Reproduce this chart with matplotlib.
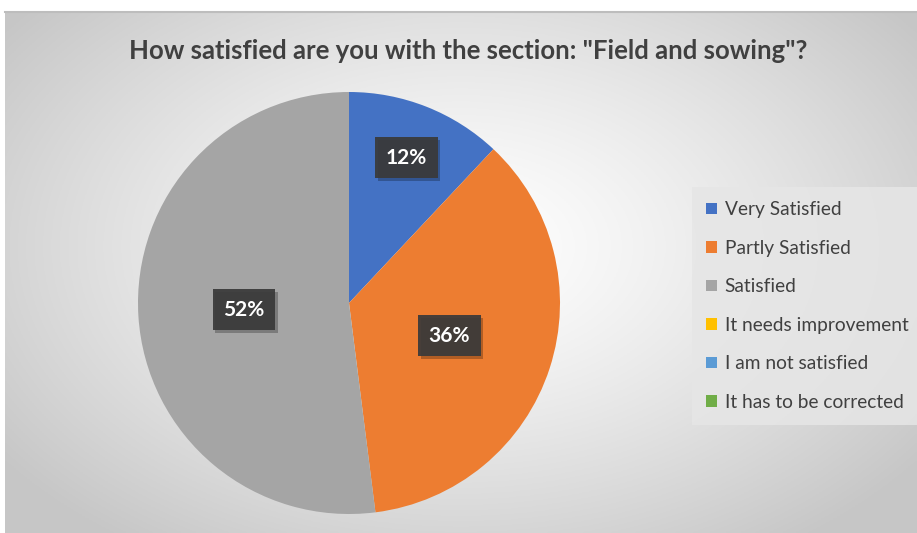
import numpy as np
import matplotlib.pyplot as plt
import matplotlib.patheffects as pe
from matplotlib.patches import Rectangle

categories = ["Very Satisfied", "Partly Satisfied", "Satisfied",
              "It needs improvement", "I am not satisfied", "It has to be corrected"]
values = [12, 36, 52, 0, 0, 0]
colors = ["#4472C4", "#ED7D31", "#A5A5A5", "#FFC000", "#5B9BD5", "#70AD47"]
title = 'How satisfied are you with the section: "Field and sowing"?'

W, H = 917, 533
fig = plt.figure(figsize=(W / 100, H / 100), dpi=100)
fig.patch.set_facecolor("white")

# chart area with radial gradient background
x0, y0 = 5, 12  # pixel offsets of chart area (from left, from top)
bg = fig.add_axes([x0 / W, 0, (W - x0) / W, (H - y0) / H])
bg.set_axis_off()
gx = np.linspace(0, 1, 400)
gy = np.linspace(0, 1, 240)
X, Y = np.meshgrid(gx, gy)
cx, cy = 0.50, 0.55
d = np.sqrt(((X - cx) / 0.62) ** 2 + ((Y - cy) / 0.70) ** 2)
d = np.clip(d, 0, 1)
val = 1.0 - 0.22 * d ** 1.3
img = np.dstack([val, val, val])
bg.imshow(img, extent=[0, 1, 0, 1], origin="lower", aspect="auto")
bg.plot([0, 1], [1, 1], color="#bdbdbd", lw=1.5, transform=bg.transAxes, clip_on=False)
bg.set_xlim(0, 1)
bg.set_ylim(0, 1)

# pie
pcx, pcy, r = 349, 303, 211
ax = fig.add_axes([(pcx - r) / W, (H - pcy - r) / H, 2 * r / W, 2 * r / H])
ax.set_axis_off()
wedges, _ = ax.pie(values, colors=colors, startangle=90, counterclock=False,
                   radius=1.0, wedgeprops=dict(linewidth=0))
ax.set_xlim(-1, 1)
ax.set_ylim(-1, 1)

# percentage labels in dark boxes
label_r = [0.74, 0.50, 0.50]
total = sum(values)
start = 90.0
for i, v in enumerate(values):
    if v == 0:
        continue
    ang = start - 360 * v / total / 2
    start -= 360 * v / total
    rr = label_r[i]
    tx, ty = rr * np.cos(np.radians(ang)), rr * np.sin(np.radians(ang))
    t = ax.text(tx, ty, f"{v}%", ha="center", va="center", color="white",
                fontsize=15, fontweight="bold", family="Lato",
                bbox=dict(boxstyle="square,pad=0.5", fc="#3a3a3a", ec="none", alpha=0.93))
    t.get_bbox_patch().set_path_effects(
        [pe.SimplePatchShadow(offset=(2, -2), shadow_rgbFace="black", alpha=0.25), pe.Normal()])

fig.text(468 / W, 1 - 51 / H, title, ha="center", va="center",
         fontsize=18.5, fontweight="bold", family="Lato", color="#404040")

# legend
handles = [Rectangle((0, 0), 1, 1, fc=c, ec="none") for c in colors]
leg = fig.legend(handles, categories, loc="upper left",
                 bbox_to_anchor=(692 / W, 1 - 187 / H),
                 frameon=True, fancybox=False,
                 prop=dict(family="Lato", size=13.8),
                 handlelength=0.55, handleheight=0.55, handletextpad=0.4,
                 labelspacing=1.12, borderpad=0.75, borderaxespad=0)
leg.get_frame().set_facecolor("#e6e6e6")
leg.get_frame().set_edgecolor("none")
leg.get_frame().set_alpha(0.85)
for t in leg.get_texts():
    t.set_color("#404040")

fig.savefig("out.png", dpi=100)
